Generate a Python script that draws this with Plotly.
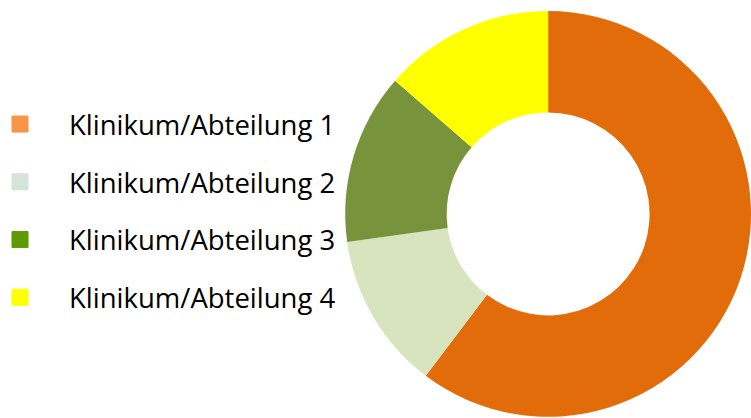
import plotly.graph_objects as go

# Share per clinic / department (percent)
categories = ["Klinikum/Abteilung 1", "Klinikum/Abteilung 2",
              "Klinikum/Abteilung 3", "Klinikum/Abteilung 4"]
shares = [60.3, 12.5, 13.6, 13.6]

slice_colors = ["#E36C0A", "#D7E4BD", "#77933C", "#FFFF00"]
legend_colors = ["#F79646", "#D5E3DA", "#5F9A00", "#FFFF00"]

fig = go.Figure()

fig.add_trace(go.Pie(
    labels=categories,
    values=shares,
    hole=0.5,
    sort=False,
    direction="clockwise",
    rotation=0,
    marker=dict(colors=slice_colors, line=dict(width=0)),
    textinfo="none",
    hoverinfo="label+percent",
    showlegend=False,
    domain=dict(x=[0.4597, 1.0], y=[0.0024, 0.974]),
))

# Legend entries with their own swatch colours
for i, (name, col) in enumerate(zip(categories, legend_colors)):
    fig.add_trace(go.Scatter(
        x=[None], y=[None], mode="markers", name=name,
        legendgroup=f"g{i}",
        marker=dict(symbol="square", size=16, color=col,
                    line=dict(width=1, color=col)),
        hoverinfo="skip",
    ))

fig.update_layout(
    width=751, height=418,
    margin=dict(l=0, r=0, t=0, b=0, autoexpand=False),
    paper_bgcolor="white",
    plot_bgcolor="white",
    xaxis=dict(visible=False, domain=[0, 0.01]),
    yaxis=dict(visible=False, domain=[0, 0.01]),
    legend=dict(
        x=-0.0386, y=0.496, xanchor="left", yanchor="middle",
        font=dict(family="Open Sans", size=27.5, color="#000000"),
        tracegroupgap=19,
        itemwidth=88,
        bgcolor="rgba(0,0,0,0)",
    ),
)

fig.write_html("out.html")
